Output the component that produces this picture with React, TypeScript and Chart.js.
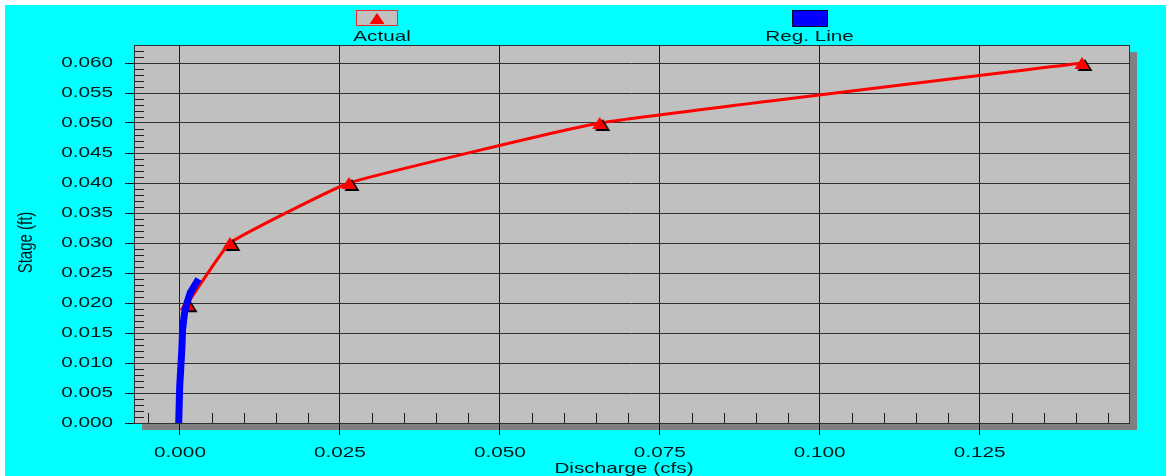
import React, { useEffect, useRef } from 'react';
import { Chart, registerables } from 'chart.js';

Chart.register(...registerables);

// ---- data ----
const seriesNames = ['Actual', 'Reg. Line'];
const actualDischarge = [0.0011, 0.0078, 0.0264, 0.0656, 0.1410];
const actualStage = [0.0198, 0.03, 0.04, 0.05, 0.06];
const regDischarge = [-0.0002, -0.00005, 0.0003, 0.0004, 0.0007, 0.0011, 0.0016, 0.0029];
const regStage = [0.0, 0.006, 0.0125, 0.0155, 0.0183, 0.02, 0.0217, 0.024];
const xTickValues = [0, 0.025, 0.05, 0.075, 0.1, 0.125];
const xTickLabels = ['0.000', '0.025', '0.050', '0.075', '0.100', '0.125'];
const yTickValues = [0, 0.005, 0.01, 0.015, 0.02, 0.025, 0.03, 0.035, 0.04, 0.045, 0.05, 0.055, 0.06];
const yTickLabels = ['0.000', '0.005', '0.010', '0.015', '0.020', '0.025', '0.030', '0.035', '0.040', '0.045', '0.050', '0.055', '0.060'];
const xTitle = 'Discharge (cfs)';
const yTitle = 'Stage (ft)';
const X_MIN = -0.00719;
const X_MAX = 0.14835;
const Y_MIN = 0;
const Y_MAX = 0.063;

const W = 1161;
const H = 471;
const FONT = '15px "Liberation Sans", Arial, sans-serif';
const SX = 1.38;
const TEXT = '#031818';

function drawText(ctx: CanvasRenderingContext2D, text: string, x: number, y: number, align: CanvasTextAlign, rotate = false) {
  ctx.save();
  ctx.translate(x, y);
  ctx.scale(SX, 1);
  if (rotate) ctx.rotate(-Math.PI / 2);
  ctx.textAlign = align;
  ctx.textBaseline = 'alphabetic';
  ctx.fillText(text, 0, 0);
  ctx.restore();
}

function makeMarker() {
  const c = document.createElement('canvas');
  c.width = 32;
  c.height = 32;
  const g = c.getContext('2d') as CanvasRenderingContext2D;
  const cx = 16, cy = 16;
  const tri = (dx: number, dy: number, color: string) => {
    g.beginPath();
    g.moveTo(cx + dx, cy - 6 + dy);
    g.lineTo(cx + 7.5 + dx, cy + 6 + dy);
    g.lineTo(cx - 7.5 + dx, cy + 6 + dy);
    g.closePath();
    g.fillStyle = color;
    g.fill();
  };
  tri(3, 2, '#000000');
  tri(0, 0, '#ff0000');
  return c;
}

const decor = {
  id: 'decor',
  beforeDraw(chart: any) {
    const { ctx, chartArea: a } = chart;
    ctx.save();
    ctx.fillStyle = '#00ffff';
    ctx.fillRect(0, 0, chart.width, chart.height);
    ctx.fillStyle = '#808080';
    ctx.fillRect(a.left + 8, a.top + 7, a.right - a.left, a.bottom - a.top);
    ctx.fillStyle = '#c0c0c0';
    ctx.fillRect(a.left, a.top, a.right - a.left, a.bottom - a.top);
    ctx.restore();
  },
  beforeDatasetsDraw(chart: any) {
    const { ctx, chartArea: a, scales } = chart;
    const xs = scales.x, ys = scales.y;
    ctx.save();
    ctx.strokeStyle = '#202020';
    ctx.lineWidth = 1;
    ctx.beginPath();
    for (let i = 1; i / 1000 <= Y_MAX; i++) {
      if (i % 5 === 0) continue;
      const py = Math.round(ys.getPixelForValue(i / 1000)) + 0.5;
      ctx.moveTo(a.left, py);
      ctx.lineTo(a.left + 10, py);
    }
    for (let i = -1; i * 0.005 <= X_MAX; i++) {
      if (i % 5 === 0) continue;
      const v = i * 0.005;
      if (v < X_MIN) continue;
      const px = Math.round(xs.getPixelForValue(v)) + 0.5;
      ctx.moveTo(px, a.bottom);
      ctx.lineTo(px, a.bottom - 10);
    }
    ctx.stroke();
    ctx.strokeStyle = '#303030';
    ctx.strokeRect(Math.round(a.left) + 0.5, Math.round(a.top) + 0.5, Math.round(a.right - a.left), Math.round(a.bottom - a.top));
    ctx.restore();
  },
  afterDraw(chart: any) {
    const { ctx, chartArea: a, scales } = chart;
    const xs = scales.x, ys = scales.y;
    ctx.save();
    ctx.font = FONT;
    ctx.fillStyle = TEXT;
    yTickValues.forEach((v, i) => {
      drawText(ctx, yTickLabels[i], a.left - 21, ys.getPixelForValue(v) + 4.3, 'right');
    });
    xTickValues.forEach((v, i) => {
      drawText(ctx, xTickLabels[i], xs.getPixelForValue(v), a.bottom + 33.7, 'center');
    });
    drawText(ctx, xTitle, 619, 468, 'center');
    drawText(ctx, yTitle, 26.5, 237.5, 'center', true);

    // legend
    ctx.fillStyle = '#c0c0c0';
    ctx.fillRect(351.5, 5, 41, 15.5);
    ctx.strokeStyle = '#e03030';
    ctx.lineWidth = 1;
    ctx.strokeRect(351.5, 5.5, 41, 15);
    ctx.beginPath();
    ctx.moveTo(372, 8);
    ctx.lineTo(379.5, 19);
    ctx.lineTo(364.5, 19);
    ctx.closePath();
    ctx.fillStyle = '#ff0000';
    ctx.fill();
    ctx.fillStyle = '#0000ff';
    ctx.fillRect(787.5, 5.5, 35, 16);
    ctx.strokeStyle = '#000030';
    ctx.strokeRect(787.5, 5.5, 35, 16);
    ctx.fillStyle = TEXT;
    drawText(ctx, seriesNames[0], 377, 36, 'center');
    drawText(ctx, seriesNames[1], 804.5, 36, 'center');
    ctx.restore();
  },
};

export default function App() {
  const ref = useRef<HTMLCanvasElement>(null);
  useEffect(() => {
    const canvas = ref.current;
    if (!canvas) return;
    const marker = makeMarker();
    const chart = new Chart(canvas, {
      type: 'scatter',
      data: {
        datasets: [
          {
            label: seriesNames[0],
            data: actualDischarge.map((x, i) => ({ x, y: actualStage[i] })),
            showLine: true,
            borderColor: '#ff0000',
            backgroundColor: '#ff0000',
            borderWidth: 3,
            pointStyle: marker as any,
            pointRadius: 8,
            tension: 0.1,
            order: 1,
          },
          {
            label: seriesNames[1],
            data: regDischarge.map((x, i) => ({ x, y: regStage[i] })),
            showLine: true,
            borderColor: '#0000ff',
            backgroundColor: '#0000ff',
            borderWidth: 7,
            borderCapStyle: 'butt',
            pointRadius: 0,
            tension: 0,
            order: 0,
          },
        ],
      },
      options: {
        responsive: false,
        animation: false,
        devicePixelRatio: 1,
        events: [],
        layout: { padding: { left: 0, right: 37, top: 40, bottom: 0 } },
        plugins: { legend: { display: false }, tooltip: { enabled: false }, title: { display: false } },
        scales: {
          x: {
            type: 'linear',
            min: X_MIN,
            max: X_MAX,
            afterBuildTicks: (s: any) => { s.ticks = xTickValues.map((v) => ({ value: v })); },
            afterFit: (s: any) => { s.height = 53; },
            ticks: { display: false },
            grid: { color: '#202020', tickColor: '#101010', tickLength: 12, drawTicks: true, lineWidth: 1 },
            border: { display: false },
          },
          y: {
            type: 'linear',
            min: Y_MIN,
            max: Y_MAX,
            afterBuildTicks: (s: any) => { s.ticks = yTickValues.map((v) => ({ value: v })); },
            afterFit: (s: any) => { s.width = 129; },
            ticks: { display: false },
            grid: { color: '#303030', tickColor: '#101010', tickLength: 9, drawTicks: true, lineWidth: 1 },
            border: { display: false },
          },
        },
      },
      plugins: [decor],
    });
    return () => chart.destroy();
  }, []);
  return (
    <div style={{ position: 'absolute', left: 5, top: 5, width: W, height: H }}>
      <canvas ref={ref} width={W} height={H} style={{ display: 'block', width: W, height: H }} />
    </div>
  );
}
